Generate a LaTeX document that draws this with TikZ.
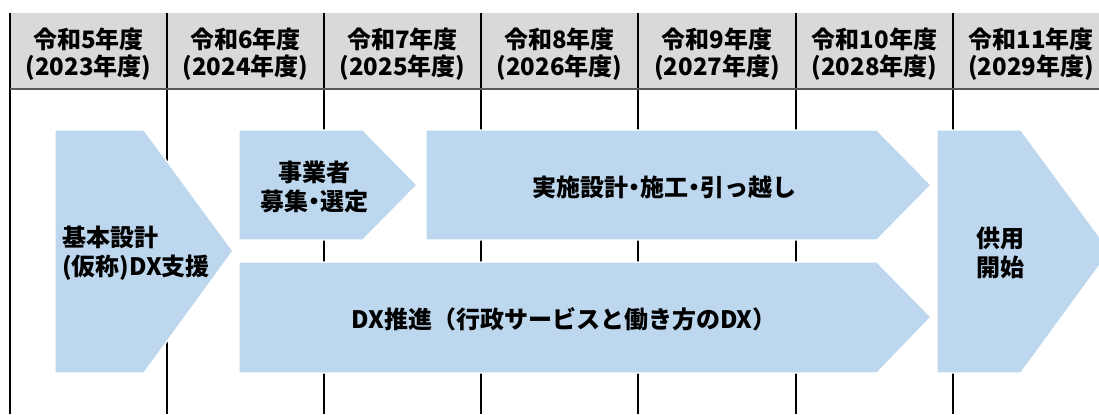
\documentclass[tikz,border=0pt]{standalone}
\usepackage{fontspec}
\setmainfont{Noto Sans CJK JP}
\definecolor{hdr}{HTML}{D9D9D9}
\definecolor{boxblue}{HTML}{BDD7EE}
\definecolor{hline}{HTML}{595959}
\newcommand{\nd}{\makebox[0.5em]{・}}
\begin{document}
\begin{tikzpicture}[x=0.75pt,y=-0.75pt,
  lbl/.style={font=\fontsize{18}{21.75}\selectfont\bfseries, align=center, inner sep=0pt},
  hlbl/.style={font=\fontsize{18}{20.25}\selectfont\bfseries, align=center, inner sep=0pt},
  phase/.style={fill=boxblue, draw=white, line width=1pt},
  grid/.style={draw=black, line width=0.9pt}]
\useasboundingbox (0,0) rectangle (1099,414);
\clip (0,0) rectangle (1099,414);
% header
\fill[hdr] (10,13) rectangle (1099,89);
\foreach \x in {10,167,324,481,638,796,953}{
  \draw[grid] (\x,13) -- (\x,414);
}
\draw[hline, line width=1.6pt] (10,89) -- (1099,89);
% header labels
\node[hlbl] (y5)  at (88.5,54)  {令和5年度\\(2023年度)};
\node[hlbl] (y6)  at (245.5,54) {令和6年度\\(2024年度)};
\node[hlbl] (y7)  at (402.5,54) {令和7年度\\(2025年度)};
\node[hlbl] (y8)  at (559.5,54) {令和8年度\\(2026年度)};
\node[hlbl] (y9)  at (717,54)   {令和9年度\\(2027年度)};
\node[hlbl] (y10) at (874.5,54) {令和10年度\\(2028年度)};
\node[hlbl] (y11) at (1031,54)  {令和11年度\\(2029年度)};
% phase shapes
\path[phase] (55,130) -- (144,130) -- (233,251) -- (144,373) -- (55,373) -- cycle;
\path[phase] (239,130) -- (363,130) -- (417,185) -- (363,240) -- (239,240) -- cycle;
\path[phase] (426,130) -- (877,130) -- (931,185) -- (877,240) -- (426,240) -- cycle;
\path[phase] (239,262) -- (877,262) -- (931,317) -- (877,373) -- (239,373) -- cycle;
\path[phase] (937,130) -- (1021,130) -- (1110,251) -- (1021,373) -- (937,373) -- cycle;
% phase labels
\node[lbl, align=left, anchor=west] (kihon) at (62,253) {基本設計\\(仮称)DX支援};
\node[lbl] (jigyo) at (314,187) {事業者\\募集\nd 選定};
\node[lbl] (jisshi) at (664,187) {実施設計\nd 施工\nd 引っ越し};
\node[lbl] (dx) at (564,319) {DX推進（行政サービスと働き方のDX）};
\node[lbl] (kyoyo) at (1000,253) {供用\\開始};
\end{tikzpicture}
\end{document}
